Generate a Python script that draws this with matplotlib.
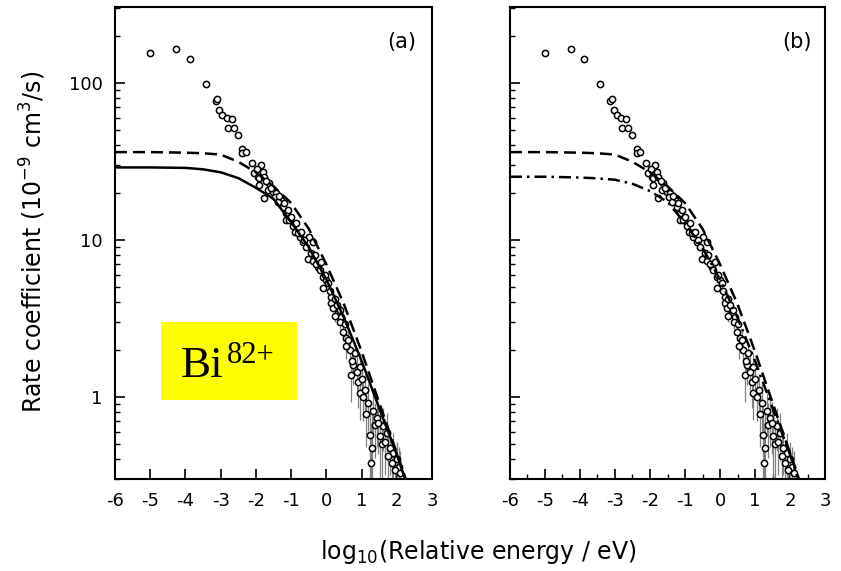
import numpy as np
import matplotlib.pyplot as plt
from matplotlib.patches import Rectangle

plt.rcParams['font.family'] = ['DejaVu Sans']

# measured rate coefficients (same data in both panels)
x_data = [-5.00, -4.26, -3.88, -3.42, -3.14, -3.09, -3.04, -2.95, -2.83, -2.80,
          -2.69, -2.63, -2.52, -2.38, -2.38, -2.29, -2.10, -2.05, -1.95, -1.91,
          -1.86, -1.81, -1.76, -1.76, -1.67, -1.62, -1.52, -1.43, -1.29, -1.24,
          -1.19, -1.14, -1.14, -1.05, -0.95, -0.90, -0.76, -0.67, -0.57, -0.52,
          -0.48, -0.38, -0.38, -0.24, -0.19, -0.10, -0.10, 0.00, 0.05, 0.14,
          0.14, 0.19, 0.29, 0.33, 0.38, 0.43, 0.48, 0.57, 0.67, 0.71,
          0.76, 0.81, 0.90, 0.95, 0.95, 1.05, 1.19, 1.24, 1.29, 1.33,
          1.43, 1.52, 1.62, 1.71, 1.81, 1.86, 1.90, 2.00, 2.05,
          -1.98, -1.90, -1.70, -1.57, -1.47, -1.38, -1.33, -1.10, -1.00, -0.86,
          -0.81, -0.71, -0.62, -0.43, -0.33, -0.29, -0.14, -0.05, 0.09, 0.24,
          0.24, 0.40, 0.52, 0.55, 0.62, 0.74, 0.86, 1.00, 1.10, 1.14,
          1.26, 1.38, 1.48, 1.57, 1.67, 1.76, 1.95, 2.10]
y_data = [155, 164, 142, 98.5, 77, 79, 67, 62.5, 60, 52,
          59, 52, 46.6, 38, 35.6, 36.2, 30.8, 26.7, 25.3, 25.0,
          30.0, 27.2, 18.4, 25.3, 20.8, 23.0, 20.3, 19.8, 18.0, 16.3,
          17.1, 14.8, 13.4, 13.4, 12.2, 11.3, 10.5, 9.76, 9.06, 7.6,
          10.5, 9.76, 7.3, 6.77, 6.44, 5.84, 4.92, 5.56, 5.3, 4.36,
          3.96, 3.67, 3.86, 3.41, 3.58, 3.25, 2.61, 2.37, 1.99, 1.38,
          1.60, 1.90, 1.25, 1.56, 1.06, 1.00, 0.91, 0.57, 0.47, 0.81,
          0.73, 0.56, 0.65, 0.59, 0.47, 0.38, 0.44, 0.40, 0.36,
          28.5, 22.5, 23.8, 21.5, 18.8, 17.5, 19.0, 15.5, 14.0, 12.8,
          11.0, 11.3, 10.0, 8.3, 8.0, 7.0, 7.2, 6.0, 4.7, 4.2,
          3.3, 3.0, 2.9, 2.1, 2.3, 1.7, 1.45, 1.3, 1.1, 0.78,
          0.38, 0.66, 0.68, 0.50, 0.52, 0.42, 0.34, 0.33]
y_err = [0, 0, 0, 0, 0, 0, 0, 0, 0, 0,
         0, 0, 0, 0, 0, 0, 0, 0, 0, 0,
         0, 0, 0, 0, 0, 0, 0, 0, 0, 0,
         0, 0, 0, 0, 0, 0, 0, 0, 0, 0,
         0, 0, 0, 0, 0, 0, 0, 0, 0, 0,
         0, 0, 0.3, 0.3, 0.3, 0.3, 0.35, 0.35, 0.4, 0.45,
         0.4, 0.35, 0.4, 0.35, 0.35, 0.3, 0.3, 0.35, 0.35, 0.25,
         0.25, 0.25, 0.2, 0.2, 0.15, 0.15, 0.15, 0.12, 0.12,
         0, 0, 0, 0, 0, 0, 0, 0, 0, 0,
         0, 0, 0, 0, 0, 0, 0, 0, 0, 0.3,
         0.3, 0.3, 0.35, 0.35, 0.35, 0.35, 0.35, 0.3, 0.3, 0.3,
         0.3, 0.25, 0.25, 0.2, 0.2, 0.15, 0.12, 0.12]

# theory curves
x_curve = [-6, -5, -4, -3.5, -3, -2.5, -2, -1.5, -1, -0.5, 0, 0.5, 1, 1.5, 2, 2.3]
solid_a = [29.0, 29.0, 28.8, 28.2, 27.0, 24.8, 21.5, 18.3, 13.0, 9.0, 5.6, 3.2, 1.7, 0.85, 0.43, 0.27]
dashed = [36.3, 36.3, 36.0, 35.7, 35.0, 31.5, 27.0, 22.0, 17.2, 11.8, 7.0, 3.9, 1.95, 0.92, 0.44, 0.28]
dashdot_b = [25.3, 25.3, 25.0, 24.7, 24.2, 22.8, 20.5, 17.5, 12.8, 8.9, 5.6, 3.2, 1.7, 0.85, 0.43, 0.27]

xticks = [-6, -5, -4, -3, -2, -1, 0, 1, 2, 3]
xtick_labels = ['-6', '-5', '-4', '-3', '-2', '-1', '0', '1', '2', '3']

fig = plt.figure(figsize=(8.41, 5.71), dpi=100)
ax_a = fig.add_axes([0.1367, 0.1611, 0.377, 0.8266])
ax_b = fig.add_axes([0.6064, 0.1611, 0.3746, 0.8266])

for ax in (ax_a, ax_b):
    ax.errorbar(x_data, y_data, yerr=y_err, fmt='none', ecolor='#808080', elinewidth=0.9, zorder=2)
    ax.plot(x_data, y_data, 'o', ms=4.5, mfc='white', mec='black', mew=1.1, zorder=3)
    ax.plot(x_curve, dashed, color='black', lw=1.8, ls=(0, (4.8, 2.4)), zorder=4)
    ax.set_yscale('log')
    ax.set_xlim(-6, 3)
    ax.set_ylim(0.3, 305)
    ax.set_xticks(xticks)
    ax.set_xticklabels(xtick_labels)
    ax.tick_params(axis='both', which='major', direction='in', length=7, width=1.2,
                   labelsize=13, pad=9, top=False, right=False)
    ax.tick_params(axis='both', which='minor', direction='in', length=3.5, width=1.0,
                   top=False, right=False)
    for s in ax.spines.values():
        s.set_linewidth(1.5)

ax_a.plot(x_curve, solid_a, color='black', lw=1.8, zorder=4)
ax_b.plot(x_curve, dashdot_b, color='black', lw=1.8, ls=(0, (4.8, 2.0, 1.0, 2.0)), zorder=4)

ax_a.set_yticks([1, 10, 100])
ax_a.set_yticklabels(['1', '10', '100'])
ax_a.xaxis.set_minor_locator(plt.NullLocator())
ax_b.set_yticks([1, 10, 100])
ax_b.set_yticklabels([])
ax_b.xaxis.set_minor_locator(plt.MultipleLocator(0.5))
ax_b.yaxis.set_minor_formatter(plt.NullFormatter())
ax_a.yaxis.set_minor_formatter(plt.NullFormatter())

ax_a.text(0.905, 0.925, '(a)', transform=ax_a.transAxes, ha='center', va='center', fontsize=15)
ax_b.text(0.91, 0.925, '(b)', transform=ax_b.transAxes, ha='center', va='center', fontsize=15)

# yellow label box
fig.patches.append(Rectangle((161 / 841, 1 - 400 / 571), 136 / 841, 78 / 571,
                             transform=fig.transFigure, facecolor='#ffff00', edgecolor='none', zorder=5))
fig.text(181 / 841, 1 - 377 / 571, 'Bi', family='Liberation Serif',
         fontsize=32.5, ha='left', va='baseline', zorder=6)
fig.text(227 / 841, 1 - 363 / 571, '82+', family='Liberation Serif',
         fontsize=22, ha='left', va='baseline', zorder=6)

fig.text(478 / 841, 1 - 552 / 571, 'log$_{\\mathregular{10}}$(Relative energy / eV)',
         ha='center', va='center', fontsize=17)
fig.text(33 / 841, 1 - 242 / 571, 'Rate coefficient (10$^{\\mathregular{-9}}$ cm$^{\\mathregular{3}}$/s)',
         ha='center', va='center', rotation=90, fontsize=17)

fig.savefig('out.png', dpi=100)
